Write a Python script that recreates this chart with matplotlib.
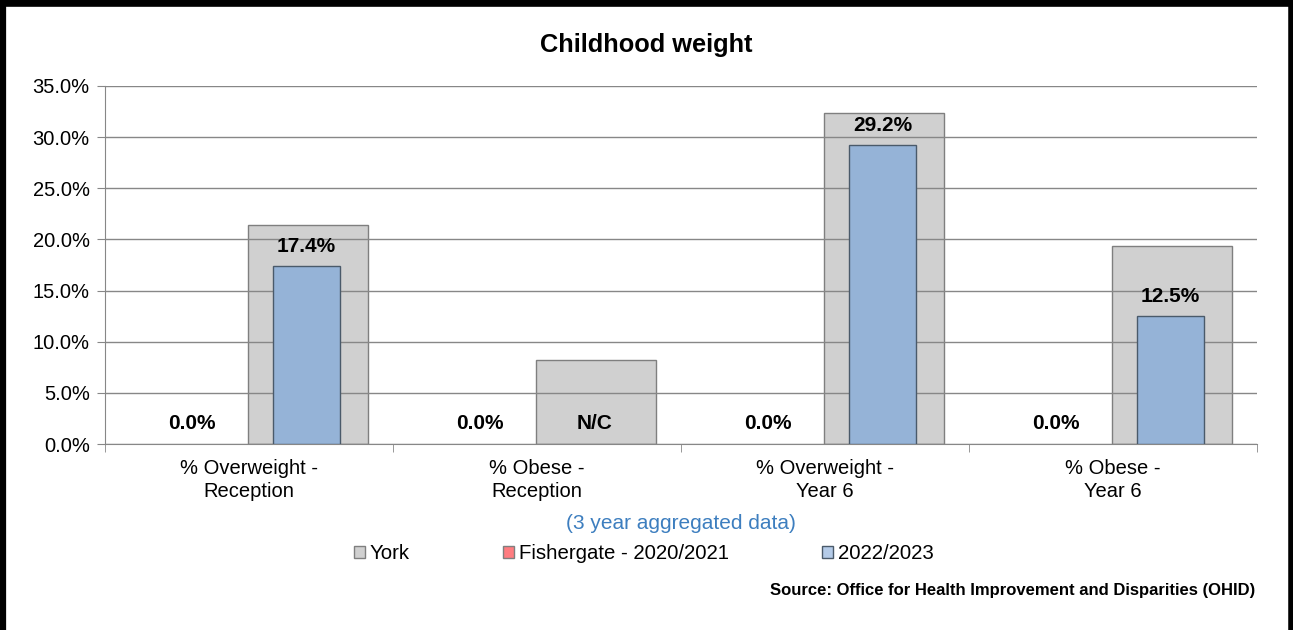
import matplotlib
matplotlib.use('Agg')
import matplotlib.pyplot as plt
from matplotlib.lines import Line2D
from matplotlib.patches import Patch

plt.rcParams['font.family'] = ['Liberation Sans', 'DejaVu Sans']

categories = ['% Overweight -\nReception', '% Obese -\nReception',
              '% Overweight -\nYear 6', '% Obese -\nYear 6']
york = [21.4, 8.2, 32.4, 19.4]
fishergate = [0.0, 0.0, 0.0, 0.0]
recent = [17.4, None, 29.2, 12.5]
series_names = ['York', 'Fishergate - 2020/2021', '2022/2023']
yticks = [0, 5, 10, 15, 20, 25, 30, 35]

fig = plt.figure(figsize=(12.93, 6.3), dpi=100)
ax = fig.add_axes([0.0812, 0.2952, 0.891, 0.5683])

x = list(range(len(categories)))
grey = '#d0d0d0'
red = '#ff7c80'
blue = '#95b3d7'

ax.bar([i + 0.205 for i in x], york, width=0.417, color=grey,
       edgecolor='#7f7f7f', linewidth=1, zorder=2)
ax.bar([i - 0.2 for i in x], fishergate, width=0.233, color=red,
       linewidth=0, zorder=3)
ax.bar([i + 0.2 for i in x], [v if v is not None else float('nan') for v in recent],
       width=0.233, color=blue, edgecolor='#4a5a6a', linewidth=1, zorder=3)

lab = dict(ha='center', va='center', fontsize=15, fontweight='bold', zorder=5)
for i in x:
    ax.text(i - 0.2, 2.05, f'{fishergate[i]:.1f}%', **lab)
    if recent[i] is None:
        ax.text(i + 0.2, 2.05, 'N/C', **lab)
    else:
        ax.text(i + 0.2, recent[i] + 1.9, f'{recent[i]:.1f}%', **lab)

ax.set_xlim(-0.5, 3.5)
ax.set_ylim(0, 35)
ax.set_yticks(yticks)
ax.set_yticklabels([f'{v:.1f}%' for v in yticks], fontsize=14.5)
ax.yaxis.grid(True, color='#878787', linewidth=1, zorder=4)
ax.set_axisbelow(False)
ax.set_xticks(x)
ax.set_xticklabels(categories, fontsize=14.5, linespacing=1.25)
ax.tick_params(axis='x', length=0, pad=11)
ax.set_xticks([-0.5, 0.5, 1.5, 2.5, 3.5], minor=True)
ax.tick_params(axis='x', which='minor', length=6, color='#878787')
ax.tick_params(axis='y', length=6, color='#878787', pad=5)
for s in ['top', 'right']:
    ax.spines[s].set_visible(False)
for s in ['left', 'bottom']:
    ax.spines[s].set_color('#878787')

fig.text(0.5, 0.928, 'Childhood weight', ha='center', va='center',
         fontsize=18.3, fontweight='bold')
fig.text(0.527, 0.169, '(3 year aggregated data)', ha='center', va='center',
         fontsize=15, color='#3d7ebf')

handles = [Patch(facecolor=grey, edgecolor='#7f7f7f'),
           Patch(facecolor=red, edgecolor='#7f7f7f'),
           Patch(facecolor='#b4cbe8', edgecolor='#4a5a6a')]
fig.legend(handles, series_names, loc='center', bbox_to_anchor=(0.498, 0.121),
           ncol=3, frameon=False, fontsize=14.7, handlelength=0.55,
           handleheight=0.55, handletextpad=0.25, columnspacing=4.55,
           borderpad=0, borderaxespad=0)

fig.text(0.9706, 0.063, 'Source: Office for Health Improvement and Disparities (OHID)',
         ha='right', va='center', fontsize=12, fontweight='bold')

# frame around the figure
fig.add_artist(Line2D([0, 1], [0.9945, 0.9945], transform=fig.transFigure,
                      color='black', linewidth=5.5))
fig.add_artist(Line2D([0.002, 0.002], [0, 1], transform=fig.transFigure,
                      color='black', linewidth=4.5))
fig.add_artist(Line2D([0.9985, 0.9985], [0, 1], transform=fig.transFigure,
                      color='black', linewidth=4))

fig.savefig('out.png', dpi=100)
